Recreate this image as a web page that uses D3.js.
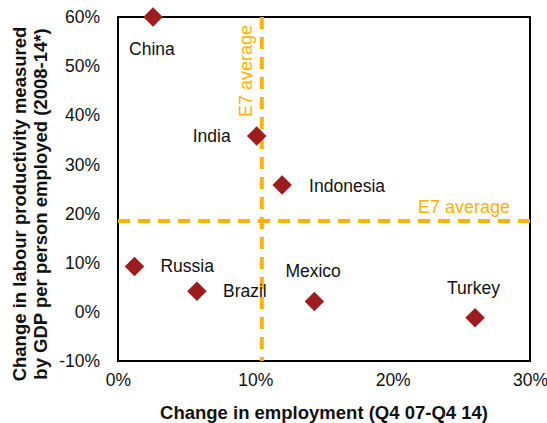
<!DOCTYPE html>
<meta charset="utf-8">
<style>
body { margin: 0; background: #fff; }
text { font-family: "Liberation Sans", Arial, sans-serif; fill: #111; }
.lbl { font-size: 17.5px; }
.title { font-size: 18.5px; font-weight: bold; }
.avg { font-size: 18px; fill: #FFB300; }
</style>
<svg width="547" height="423"></svg>
<script src="https://cdnjs.cloudflare.com/ajax/libs/d3/7.8.5/d3.min.js"></script>
<script>

var countries = ["China", "India", "Indonesia", "Russia", "Brazil", "Mexico", "Turkey"];
var employment = [2.55, 10.1, 11.95, 1.2, 5.75, 14.3, 26.0];
var productivity = [60, 35.8, 25.8, 9.25, 4.2, 2.1, -1.2];
var avgEmployment = 10.47, avgProductivity = 18.5;
var xTicks = [0, 10, 20, 30];
var yTicks = [-10, 0, 10, 20, 30, 40, 50, 60];

// label offsets from point (dx, dy to baseline)
var labelPos = {
  China: [-24, 38], India: [-64, 6], Indonesia: [27, 7], Russia: [26, 6],
  Brazil: [26, 6], Mexico: [-29, -25], Turkey: [-28, -24]
};

var svg = d3.select("svg"),
    margin = {left: 118, top: 17, right: 17, bottom: 62},
    width = 547 - margin.left - margin.right,
    height = 423 - margin.top - margin.bottom;

var x = d3.scaleLinear().domain([0, 30]).range([0, width]);
var y = d3.scaleLinear().domain([-10, 60]).range([height, 0]);

var g = svg.append("g").attr("transform", "translate(" + margin.left + "," + margin.top + ")");

g.append("rect")
    .attr("width", width).attr("height", height)
    .attr("fill", "none").attr("stroke", "#000").attr("stroke-width", 2);

var xAxis = g.append("g")
    .attr("transform", "translate(0," + height + ")")
    .call(d3.axisBottom(x).tickValues(xTicks).tickSize(0).tickPadding(13).tickFormat(function(d) { return d + "%"; }));
xAxis.select(".domain").remove();

var yAxis = g.append("g")
    .call(d3.axisLeft(y).tickValues(yTicks).tickSize(0).tickPadding(18).tickFormat(function(d) { return d + "%"; }));
yAxis.select(".domain").remove();
g.selectAll(".tick text")
    .attr("fill", "#111")
    .style("font-size", "17.5px")
    .style("font-family", "Liberation Sans, Arial, sans-serif");

// E7 average lines
g.append("line")
    .attr("x1", x(avgEmployment)).attr("x2", x(avgEmployment))
    .attr("y1", 0).attr("y2", height)
    .attr("stroke", "#FFB300").attr("stroke-width", 4).attr("stroke-dasharray", "12,8");
g.append("line")
    .attr("x1", 0).attr("x2", width)
    .attr("y1", y(avgProductivity)).attr("y2", y(avgProductivity))
    .attr("stroke", "#FFB300").attr("stroke-width", 4).attr("stroke-dasharray", "12,8");

g.append("text").attr("class", "avg")
    .attr("transform", "translate(" + (x(avgEmployment) - 10) + ",8) rotate(-90)")
    .attr("text-anchor", "end")
    .text("E7 average");
g.append("text").attr("class", "avg")
    .attr("x", width - 20).attr("y", y(avgProductivity) - 8)
    .attr("text-anchor", "end")
    .text("E7 average");

var sym = d3.symbol().type(d3.symbolSquare).size(190);

countries.forEach(function(c, i) {
  var px = x(employment[i]), py = y(productivity[i]);
  g.append("path")
      .attr("d", sym)
      .attr("transform", "translate(" + px + "," + py + ") rotate(45)")
      .attr("fill", "#9E1B1E");
  g.append("text").attr("class", "lbl")
      .attr("x", px + labelPos[c][0]).attr("y", py + labelPos[c][1])
      .text(c);
});

// axis titles
svg.append("text").attr("class", "title")
    .attr("x", 324).attr("y", 419)
    .attr("text-anchor", "middle")
    .text("Change in employment (Q4 07-Q4 14)");

var yt = svg.append("text").attr("class", "title")
    .attr("transform", "translate(26,204) rotate(-90)")
    .attr("text-anchor", "middle");
yt.append("tspan").attr("x", 0).attr("dy", 0)
    .text("Change in labour productivity measured");
yt.append("tspan").attr("x", 0).attr("dy", 21)
    .text("by GDP per person employed (2008-14*)");

</script>
